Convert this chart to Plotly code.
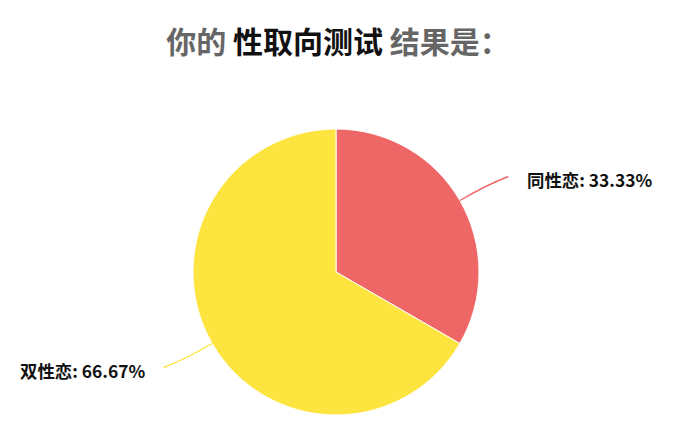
import math
import plotly.graph_objects as go

# data
labels = ["同性恋", "双性恋"]
values = [1, 2]
colors = ["#ee6666", "#fde43f"]

# layout (pixels, in page coordinates; the page adds an 8px body margin)
OFF = 8
W, H = 674 - OFF, 444 - OFF
CX, CY, R = 336, 272, 143
L1, L2, GAP = 48, 7, 17


def px(x, y):
    return (x - OFF) / W, 1 - (y - OFF) / H


fig = go.Figure()
dx0, dy1 = px(CX - R, CY - R)
dx1, dy0 = px(CX + R, CY + R)
fig.add_trace(go.Pie(
    labels=labels, values=values, sort=False, direction="clockwise", rotation=0,
    marker=dict(colors=colors, line=dict(color="white", width=1)),
    textinfo="none", hoverinfo="label+percent", showlegend=False,
    domain=dict(x=[dx0, dx1], y=[dy0, dy1]),
))

total = sum(values)
start = 0.0
for lab, v, c in zip(labels, values, colors):
    frac = v / total
    mid = (start + frac / 2) * 2 * math.pi
    start += frac
    dx, dy = math.sin(mid), -math.cos(mid)
    side = 1 if dx >= 0 else -1
    x0, y0 = CX + dx * R, CY + dy * R
    x1, y1 = x0 + dx * L1, y0 + dy * L1
    x2, y2 = x1 + side * L2, y1
    cx, cy = x0 + dx * L1 * 0.7, y0 + dy * L1 * 0.7
    p0, p1, p2 = px(x0, y0), px(cx, cy), px(x2, y2)
    fig.add_shape(type="path", xref="paper", yref="paper",
                  path=f"M {p0[0]},{p0[1]} Q {p1[0]},{p1[1]} {p2[0]},{p2[1]}",
                  line=dict(color=c, width=1.4))
    lx, ly = px(x2 + side * GAP, y2 + 3)
    fig.add_annotation(x=lx, y=ly, xref="paper", yref="paper", showarrow=False,
                       xanchor="left" if side > 0 else "right", yanchor="middle",
                       text=f"<b>{lab}: {frac * 100:.2f}%</b>",
                       font=dict(size=17.4, color="#111"))

fig.update_layout(
    width=W, height=H, margin=dict(l=0, r=0, t=0, b=0),
    paper_bgcolor="white", plot_bgcolor="white",
    font=dict(family="Noto Sans CJK SC"),
    title=dict(
        text="<b><span style='color:#666'>你的 </span>性取向测试<span style='color:#666'> 结果是：</span></b>",
        x=px(338, 0)[0], xanchor="center", y=px(0, 42)[1], yanchor="middle",
        font=dict(size=30, color="#111", family="Noto Sans CJK SC"),
    ),
)

fig.write_html("out.html")
